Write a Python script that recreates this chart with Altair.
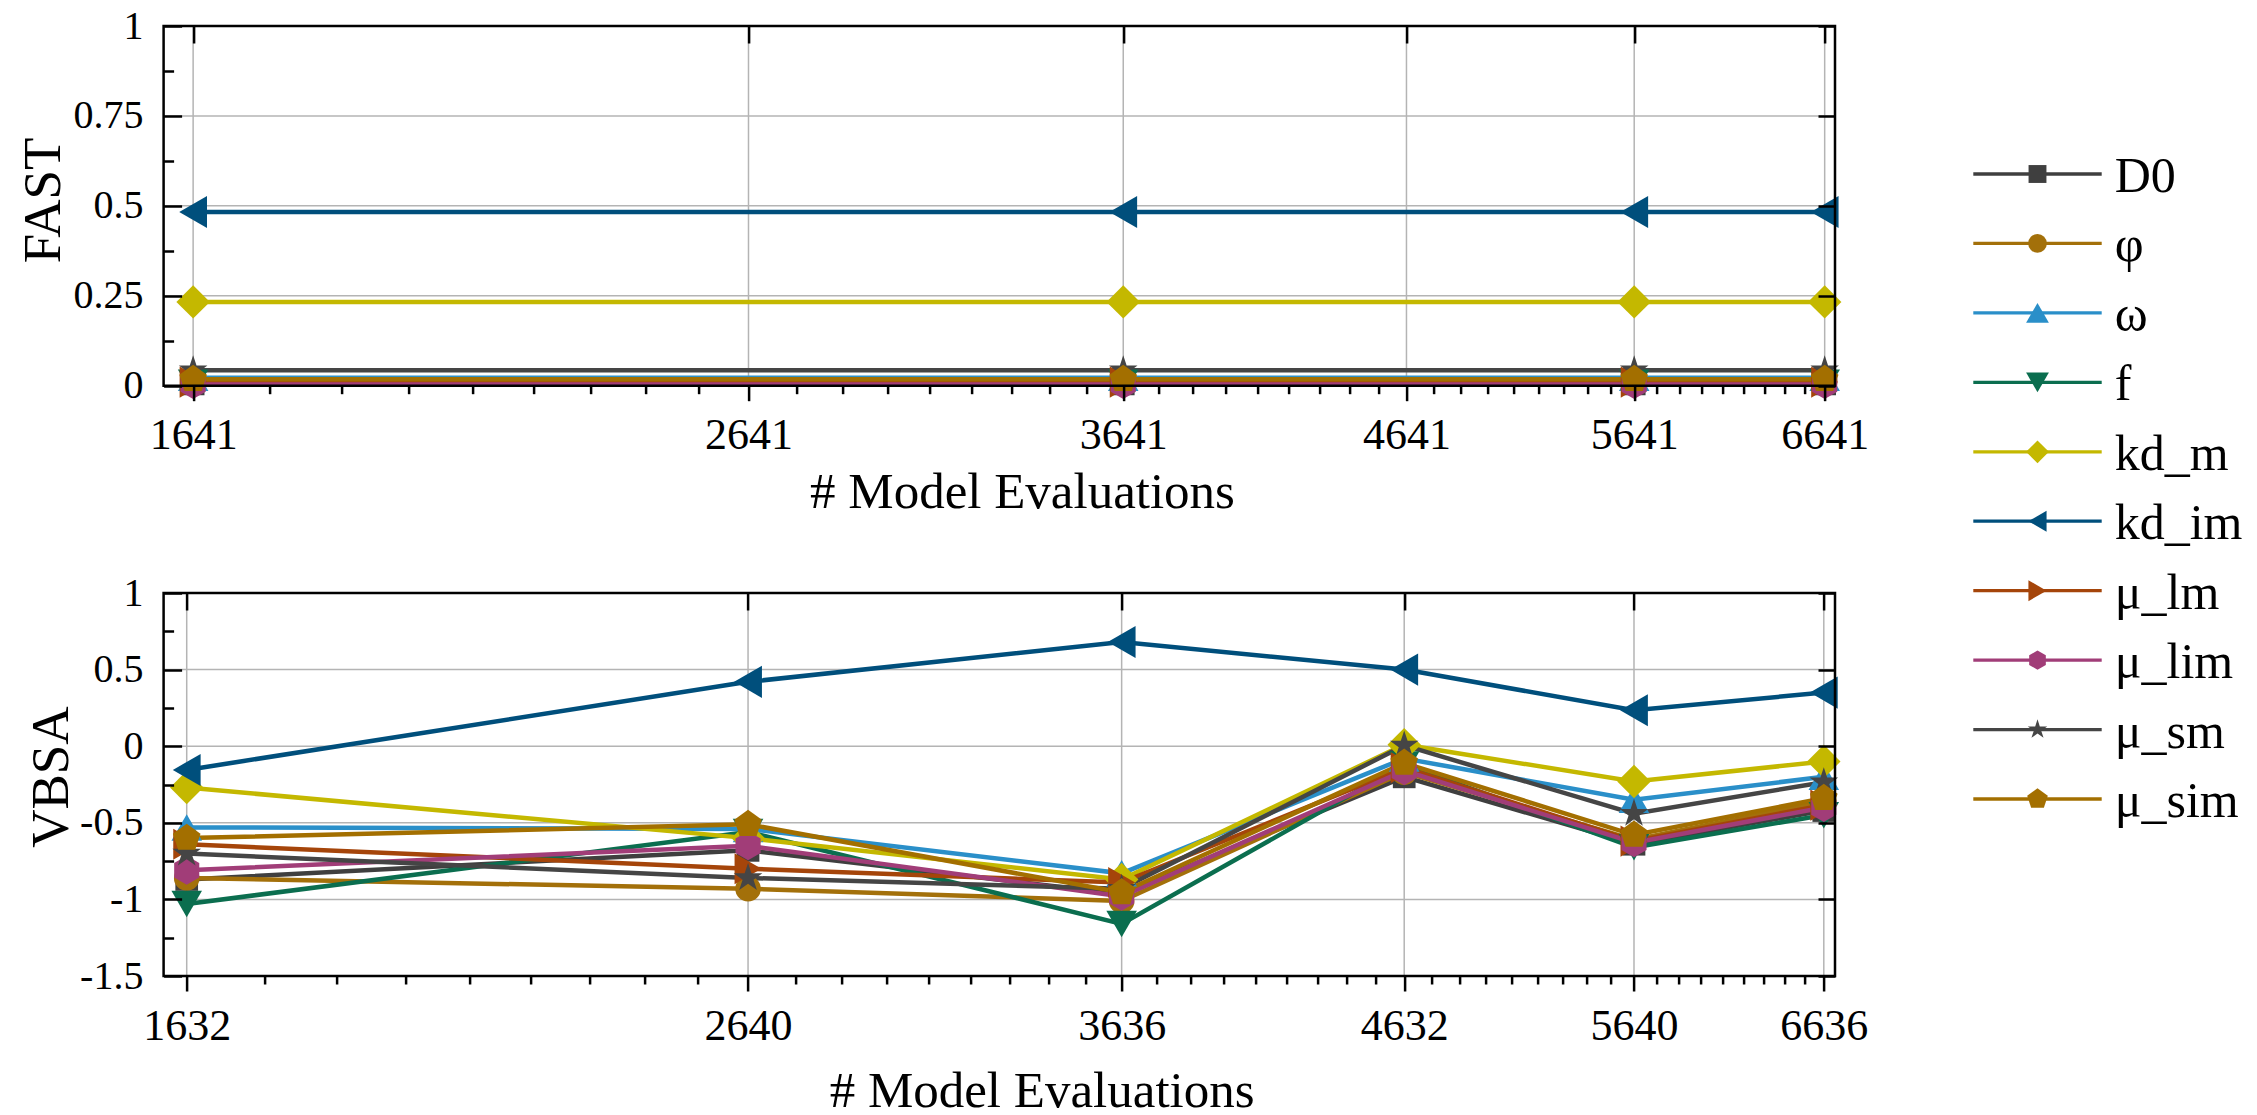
import altair as alt
import pandas as pd

# ---------------- data ----------------
series = ["D0", "φ", "ω", "f", "kd_m", "kd_im", "μ_lm", "μ_lim", "μ_sm", "μ_sim"]
colors = ["#3f3f3f", "#a3700a", "#2a8fc9", "#0b6e4f", "#c4b800",
          "#004f7c", "#a5450a", "#a13d78", "#454545", "#a36f00"]

HEX = "M0,-1L0.866,-0.5L0.866,0.5L0,1L-0.866,0.5L-0.866,-0.5Z"
STAR = ("M0,-1L0.2245,-0.309L0.951,-0.309L0.363,0.118L0.588,0.809L0,0.382"
        "L-0.588,0.809L-0.363,0.118L-0.951,-0.309L-0.2245,-0.309Z")
PENT = "M0,-1L0.951,-0.309L0.588,0.809L-0.588,0.809L-0.951,-0.309Z"
shapes = ["square", "circle", "triangle-up", "triangle-down", "diamond",
          "triangle-left", "triangle-right", HEX, STAR, PENT]
plot_sizes = [515, 655, 935, 935, 1120, 1030, 970, 840, 905, 840]
legend_sizes = [320, 350, 520, 520, 520, 440, 440, 370, 420, 470]

# FAST panel
fast_x = [1641, 3641, 5641, 6641]
fast_ticks = [1641, 2641, 3641, 4641, 5641, 6641]
fast_vals = [0.005, 0.012, 0.022, 0.008, 0.233, 0.483, 0.010, 0.003, 0.043, 0.018]

# VBSA panel
vbsa_x = [1632, 2640, 3636, 4632, 5640, 6636]
vbsa_D0 = [-0.87, -0.68, -0.965, -0.20, -0.64, -0.42]
vbsa_phi = [-0.86, -0.93, -1.01, -0.17, -0.61, -0.36]
vbsa_omega = [-0.53, -0.54, -0.83, -0.08, -0.35, -0.20]
vbsa_f = [-1.03, -0.56, -1.16, -0.12, -0.66, -0.45]
vbsa_kd_m = [-0.27, -0.60, -0.87, 0.01, -0.23, -0.10]
vbsa_kd_im = [-0.155, 0.42, 0.68, 0.50, 0.235, 0.35]
vbsa_mu_lm = [-0.64, -0.80, -0.89, -0.14, -0.62, -0.385]
vbsa_mu_lim = [-0.81, -0.65, -0.98, -0.16, -0.63, -0.40]
vbsa_mu_sm = [-0.70, -0.86, -0.93, 0.005, -0.44, -0.235]
vbsa_mu_sim = [-0.60, -0.51, -0.955, -0.11, -0.58, -0.34]
vbsa_all = [vbsa_D0, vbsa_phi, vbsa_omega, vbsa_f, vbsa_kd_m, vbsa_kd_im,
            vbsa_mu_lm, vbsa_mu_lim, vbsa_mu_sm, vbsa_mu_sim]

FONT = "Liberation Serif"
GRID = "#b4b4b4"

# ---------------- geometry (pixels) ----------------
W = 1671.4          # plot width
H = 950.0           # height from top of FAST panel to bottom of VBSA panel
TOP_H = 359.7       # FAST panel height
BOT_Y0 = 567.0      # VBSA panel top (relative)
PAD_L, PAD_T = 163.6, 26.0


def minor_values(majors):
    out = []
    for a, b in zip(majors[:-1], majors[1:]):
        step = (b - a) / 9.0
        out += [a + k * step for k in range(1, 9)]
    return out


size_of = dict(zip(series, plot_sizes))
fast_df = pd.DataFrame([{"series": s, "x": x, "y": v, "sz": size_of[s]}
                        for s, v in zip(series, fast_vals) for x in fast_x])
vbsa_df = pd.DataFrame([{"series": s, "x": x, "y": v, "sz": size_of[s]}
                        for s, vals in zip(series, vbsa_all)
                        for x, v in zip(vbsa_x, vals)])

color_enc = alt.Color("series:N", scale=alt.Scale(domain=series, range=colors), legend=None)
shape_enc = alt.Shape("series:N", scale=alt.Scale(domain=series, range=shapes), legend=None)
# identity mapping for marker areas (px^2)
size_enc = alt.Size("sz:Q", scale=alt.Scale(type="linear", domain=[0, 2000],
                                            range=[0, 2000], zero=True, nice=False),
                    legend=None)


def xscale():
    return alt.Scale(type="log", domain=[1600, 6700], nice=False, zero=False)


TICK = dict(labels=False, domain=False, grid=False, title=None,
            tickColor="black", tickWidth=2.5, zindex=2)


def panel_layers(df, xticks, ydom, yrange, ymajor, yminor, ytitle,
                 bottom_offset, top_tick_offset, ytitle_x, ytitle_y,
                 xtitle_x, xtitle_y):
    def ys():
        return alt.Scale(domain=ydom, range=yrange, nice=False, zero=False)

    main_x = alt.Axis(orient="bottom", offset=bottom_offset, values=xticks,
                      labelExpr="toString(datum.value)", labelFont=FONT,
                      labelFontSize=44, labelColor="black", labelBaseline="alphabetic",
                      labelPadding=48, labelFlush=False, labelOverlap=False,
                      ticks=True, tickSize=15, tickWidth=2.5, tickColor="black",
                      domain=False, grid=False, zindex=2,
                      title="# Model Evaluations", titleFont=FONT, titleFontSize=51,
                      titleFontWeight="normal", titleColor="black",
                      titleAnchor="start", titleAlign="center",
                      titleBaseline="alphabetic", titleX=xtitle_x, titleY=xtitle_y)
    main_y = alt.Axis(orient="left", values=ymajor, labelExpr="toString(datum.value)",
                      labelFont=FONT, labelFontSize=40, labelColor="black",
                      labelPadding=20.7, labelFlush=False, labelOverlap=False,
                      ticks=False, tickSize=0, domain=False, grid=False,
                      title=ytitle, titleFont=FONT, titleFontSize=53,
                      titleFontWeight="normal", titleColor="black", titleAngle=270,
                      titleAnchor="start", titleAlign="center",
                      titleBaseline="alphabetic", titleX=ytitle_x, titleY=ytitle_y)
    x_minor = alt.Axis(orient="bottom", offset=bottom_offset,
                       values=minor_values(xticks), tickSize=8, **TICK)
    x_top = alt.Axis(orient="top", offset=top_tick_offset, values=xticks,
                     tickSize=17, **TICK)
    y_major_in = alt.Axis(orient="left", offset=-18, values=ymajor, tickSize=18, **TICK)
    y_minor_in = alt.Axis(orient="left", offset=-10, values=yminor, tickSize=10, **TICK)
    y_right = alt.Axis(orient="right", offset=-17, values=ymajor, tickSize=17, **TICK)

    xgrid_df = pd.DataFrame({"x": xticks, "y0": [ydom[0]] * len(xticks),
                             "y1": [ydom[1]] * len(xticks)})
    ygrid_df = pd.DataFrame({"y": ymajor, "x0": [1600] * len(ymajor),
                             "x1": [6700] * len(ymajor)})
    frame_df = pd.DataFrame({"x0": [1600], "x1": [6700],
                             "y0": [ydom[0]], "y1": [ydom[1]]})

    xgrid = alt.Chart(xgrid_df).mark_rule(color=GRID, strokeWidth=1.5).encode(
        x=alt.X("x:Q", scale=xscale(), axis=main_x),
        y=alt.Y("y0:Q", scale=ys(), axis=main_y), y2="y1:Q")
    ygrid = alt.Chart(ygrid_df).mark_rule(color=GRID, strokeWidth=1.5).encode(
        x=alt.X("x0:Q", scale=xscale(), axis=x_minor), x2="x1:Q",
        y=alt.Y("y:Q", scale=ys(), axis=y_major_in))
    lines = alt.Chart(df).mark_line(strokeWidth=4.5).encode(
        x=alt.X("x:Q", scale=xscale(), axis=x_top),
        y=alt.Y("y:Q", scale=ys(), axis=y_minor_in),
        color=color_enc)
    pts = alt.Chart(df).mark_point(filled=True, opacity=1).encode(
        x=alt.X("x:Q", scale=xscale(), axis=None),
        y=alt.Y("y:Q", scale=ys(), axis=y_right),
        color=color_enc, shape=shape_enc, size=size_enc)
    frame = alt.Chart(frame_df).mark_rect(fill="white", fillOpacity=0, stroke="black",
                                          strokeWidth=2.5).encode(
        x=alt.X("x0:Q", scale=xscale(), axis=None), x2="x1:Q",
        y=alt.Y("y0:Q", scale=ys(), axis=None), y2="y1:Q")
    return [xgrid, ygrid, lines, pts, frame]


top_layers = panel_layers(fast_df, fast_ticks, [0, 1], [TOP_H, 0],
                          [0, 0.25, 0.5, 0.75, 1], [0.125, 0.375, 0.625, 0.875],
                          "FAST", -(H - TOP_H), -17,
                          -104.6, 174.0, 858.4, 121.8)
bot_layers = panel_layers(vbsa_df, vbsa_x, [-1.5, 1], [H, BOT_Y0],
                          [-1.5, -1, -0.5, 0, 0.5, 1], [-1.25, -0.75, -0.25, 0.25, 0.75],
                          "VBSA", 0, -(BOT_Y0 + 17),
                          -95.7, 750.6, 878.0, 130.0)

# ---------------- legend ----------------
leg_df = pd.DataFrame({"series": series, "x0": [0.0] * 10, "x1": [1.0] * 10,
                       "xm": [0.5] * 10, "sz": legend_sizes})


def lx():
    return alt.Scale(domain=[0, 1], range=[1809.7, 1938.1], nice=False, zero=False)


def ly():
    return alt.Scale(type="point", domain=series, range=[148.0, 773.0], padding=0)


l_rule = alt.Chart(leg_df).mark_rule(strokeWidth=3.3).encode(
    x=alt.X("x0:Q", scale=lx(), axis=None), x2="x1:Q",
    y=alt.Y("series:N", scale=ly(), axis=None), color=color_enc)
l_pts = alt.Chart(leg_df).mark_point(filled=True, opacity=1).encode(
    x=alt.X("xm:Q", scale=lx(), axis=None),
    y=alt.Y("series:N", scale=ly(), axis=None),
    color=color_enc, shape=shape_enc, size=size_enc)
l_txt = alt.Chart(leg_df).mark_text(align="left", baseline="middle", dx=13, dy=3,
                                    font=FONT, fontSize=50, color="black").encode(
    x=alt.X("x1:Q", scale=lx(), axis=None),
    y=alt.Y("series:N", scale=ly(), axis=None),
    text="series:N")

chart = (alt.layer(*top_layers, *bot_layers, l_rule, l_pts, l_txt)
         .resolve_scale(x="independent", y="independent")
         .resolve_axis(x="independent", y="independent")
         .properties(width=W, height=H,
                     autosize=alt.AutoSizeParams(type="none"),
                     padding={"left": PAD_L, "top": PAD_T,
                              "right": 2257 - PAD_L - W,
                              "bottom": 1115 - PAD_T - H},
                     background="white")
         .configure_view(strokeWidth=0))

chart.save("out.html", embed_options={"renderer": "svg", "actions": False})
